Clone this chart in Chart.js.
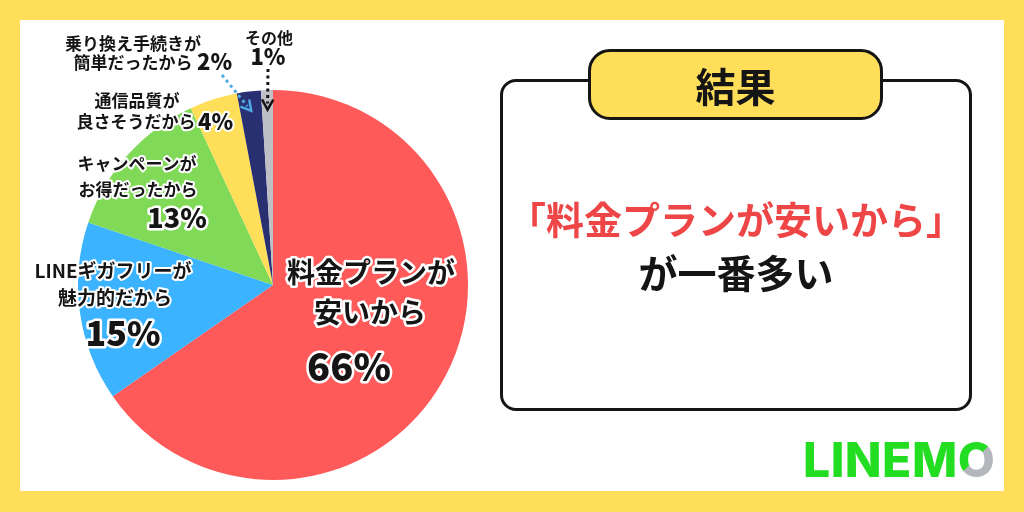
<!DOCTYPE html>
<html lang="ja">
<head>
<meta charset="utf-8">
<script src="https://cdn.jsdelivr.net/npm/chart.js@4.4.1/dist/chart.umd.min.js"></script>
<style>
  html, body { margin: 0; padding: 0; }
  body { width: 1024px; height: 512px; background: #FFDE59; position: relative; overflow: hidden;
         font-family: "Noto Sans CJK JP", "Noto Sans", sans-serif; }
  .sheet { position: absolute; left: 20px; top: 20px; width: 984px; height: 471px; background: #fff; }
  #pie { position: absolute; left: 0; top: 0; }
  .result-box { position: absolute; left: 500px; top: 79px; width: 466px; height: 326px;
                border: 3px solid #151515; border-radius: 16px; background: #fff; }
  .result-tag { position: absolute; left: 588px; top: 49px; width: 289px; height: 65px;
                border: 3px solid #151515; border-radius: 22px; background: #FFDE59;
                display: flex; align-items: center; justify-content: center;
                font-size: 40px; font-weight: 700; color: #151515; }
  .line { position: absolute; left: 500px; width: 472px; text-align: center; font-weight: 700; white-space: nowrap; }
  .red { top: 190px; font-size: 38px; color: #EE4646; }
  .black { top: 243px; font-size: 39px; color: #151515; }
  .logo { position: absolute; left: 803px; top: 431px; font-family: Inter, Roboto, sans-serif;
          font-size: 48px; font-weight: 800; color: #22DD22; letter-spacing: 0.5px; line-height: 1.2; }
  .logo .o { background: linear-gradient(135deg, #22DD22 48%, #B3B6BB 48%);
             -webkit-background-clip: text; background-clip: text; color: transparent; }
</style>
</head>
<body>
<div class="sheet"></div>
<canvas id="pie" width="1024" height="512"></canvas>
<div class="result-box"></div>
<div class="result-tag">結果</div>
<div class="line red">「料金プランが安いから」</div>
<div class="line black">が一番多い</div>
<div class="logo">LINEM<span class="o">O</span></div>

<script>
// survey: why people chose LINEMO
const reasons = ['料金プランが安いから', 'LINEギガフリーが魅力的だから', 'キャンペーンがお得だったから',
                 '通信品質が良さそうだから', '乗り換え手続きが簡単だったから', 'その他'];
const shares = [66, 15, 13, 4, 2, 1];
const sliceColors = ['#FF5A5A', '#3BB3FF', '#80D957', '#FFDE59', '#283072', '#BFC0C6'];

// label text drawn around the pie (x, y, size, align, weight)
const labelItems = [
  { t: '乗り換え手続きが', x: 133, y: 44, s: 17 },
  { t: '簡単だったから', x: 133, y: 63, s: 17 },
  { t: '2%', x: 197, y: 62, s: 22, a: 'left', w: 900 },
  { t: 'その他', x: 269, y: 38, s: 16 },
  { t: '1%', x: 268, y: 57, s: 22, w: 900 },
  { t: '通信品質が', x: 137, y: 101, s: 17 },
  { t: '良さそうだから', x: 136, y: 122, s: 17 },
  { t: '4%', x: 198, y: 122, s: 22, a: 'left', w: 900 },
  { t: 'キャンペーンが', x: 137, y: 164, s: 17 },
  { t: 'お得だったから', x: 138, y: 190, s: 17 },
  { t: '13%', x: 177, y: 218, s: 27, w: 900 },
  { t: 'LINEギガフリーが', x: 113, y: 271, s: 19 },
  { t: '魅力的だから', x: 115, y: 298, s: 19 },
  { t: '15%', x: 123, y: 333, s: 34, w: 900 },
  { t: '料金プランが', x: 371, y: 272, s: 28 },
  { t: '安いから', x: 370, y: 312, s: 28 },
  { t: '66%', x: 349, y: 367, s: 38, w: 900 }
];

// dotted pointers for the two thin slices: [slice index, start x, start y, colour]
const pointers = [
  [4, 222, 75, '#4FA9E3'],
  [5, 268, 69, '#151515']
];

function arrowTo(ctx, x0, y0, x1, y1, color) {
  ctx.save();
  ctx.strokeStyle = color;
  ctx.fillStyle = color;
  ctx.lineWidth = 3;
  ctx.setLineDash([3, 3.5]);
  const ang = Math.atan2(y1 - y0, x1 - x0);
  const hx = x1 - Math.cos(ang) * 6, hy = y1 - Math.sin(ang) * 6;
  ctx.beginPath();
  ctx.moveTo(x0, y0);
  ctx.lineTo(hx, hy);
  ctx.stroke();
  ctx.setLineDash([]);
  ctx.lineWidth = 2.5;
  ctx.beginPath();
  ctx.moveTo(hx + Math.cos(ang + 2.2) * 7, hy + Math.sin(ang + 2.2) * 7);
  ctx.lineTo(x1, y1);
  ctx.lineTo(hx + Math.cos(ang - 2.2) * 7, hy + Math.sin(ang - 2.2) * 7);
  ctx.stroke();
  ctx.restore();
}

const pieLabels = {
  id: 'pieLabels',
  afterDatasetsDraw(chart) {
    const ctx = chart.ctx;
    const arcs = chart.getDatasetMeta(0).data;
    pointers.forEach(([i, x0, y0, color]) => {
      const p = arcs[i].getProps(['x', 'y', 'startAngle', 'endAngle', 'outerRadius'], true);
      const mid = (p.startAngle + p.endAngle) / 2;
      const r = p.outerRadius * 0.9;
      arrowTo(ctx, x0, y0, p.x + Math.cos(mid) * r, p.y + Math.sin(mid) * r, color);
    });
    ctx.save();
    ctx.textBaseline = 'middle';
    ctx.lineJoin = 'round';
    labelItems.forEach(l => {
      ctx.font = `${l.w || 700} ${l.s}px "Noto Sans CJK JP", sans-serif`;
      ctx.textAlign = l.a || 'center';
      ctx.strokeStyle = '#fff';
      ctx.lineWidth = l.s > 25 ? 5 : 4;
      ctx.strokeText(l.t, l.x, l.y);
      ctx.fillStyle = '#151515';
      ctx.fillText(l.t, l.x, l.y);
    });
    ctx.restore();
  }
};

new Chart(document.getElementById('pie'), {
  type: 'pie',
  data: {
    labels: reasons,
    datasets: [{
      data: shares,
      backgroundColor: sliceColors,
      borderWidth: 0
    }]
  },
  options: {
    responsive: false,
    animation: false,
    layout: { padding: { left: 78, top: 90, right: 556, bottom: 32 } },
    plugins: { legend: { display: false }, tooltip: { enabled: false } }
  },
  plugins: [pieLabels]
});
</script>
</body>
</html>
